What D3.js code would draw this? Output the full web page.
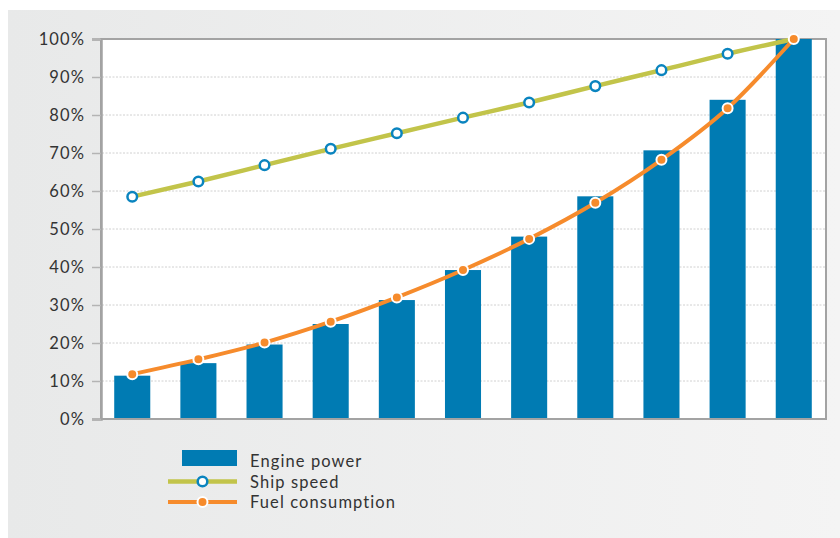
<!DOCTYPE html>
<html>
<head>
<meta charset="utf-8">
<script src="https://cdn.jsdelivr.net/npm/d3@7/dist/d3.min.js"></script>
<style>
  html, body { margin: 0; padding: 0; background: #ffffff; }
  svg { display: block; font-family: Lato, "Open Sans", sans-serif; }
</style>
</head>
<body>
<svg id="chart" width="840" height="538"></svg>
<script>
// Load steps (x positions) and the three series, in percent of maximum
const steps = d3.range(1, 12);
const enginePower = [11.4, 14.7, 19.6, 25.0, 31.3, 39.2, 48.0, 58.6, 70.7, 84.0, 100];
const shipSpeed   = [58.5, 62.5, 66.8, 71.1, 75.2, 79.3, 83.3, 87.6, 91.8, 96.1, 100];
const fuelUse     = [11.8, 15.7, 20.1, 25.6, 32.0, 39.2, 47.4, 56.9, 68.2, 81.8, 100];
const yTicks = [0, 10, 20, 30, 40, 50, 60, 70, 80, 90, 100];
const legendLabels = ["Engine power", "Ship speed", "Fuel consumption"];

const colors = {
  bar: "#007bb3",
  speed: "#c2c44a",
  speedMarker: "#0a84bf",
  fuel: "#f68b2c"
};

const textStyle = sel => sel
  .attr("font-family", "Lato, sans-serif")
  .attr("font-size", 16.5)
  .attr("letter-spacing", 1.1)
  .attr("fill", "#333333");

const svg = d3.select("#chart");

// Panel background with a soft horizontal gradient
const defs = svg.append("defs");
const grad = defs.append("linearGradient").attr("id", "panelGrad")
  .attr("x1", "0%").attr("x2", "100%").attr("y1", "0%").attr("y2", "0%");
grad.append("stop").attr("offset", "0%").attr("stop-color", "#e8e9e9");
grad.append("stop").attr("offset", "100%").attr("stop-color", "#f4f4f4");
svg.append("rect").attr("x", 8).attr("y", 10).attr("width", 832).attr("height", 528)
  .attr("fill", "url(#panelGrad)");

const plot = { left: 101, top: 39, right: 826, bottom: 419 };

const x = d3.scaleBand().domain(steps).range([99, 827]).paddingInner(0.455).paddingOuter(0.23);
const y = d3.scaleLinear().domain([0, 100]).range([plot.bottom, plot.top]);

// Plot area
svg.append("rect")
  .attr("x", plot.left).attr("y", plot.top)
  .attr("width", plot.right - plot.left).attr("height", plot.bottom - plot.top)
  .attr("fill", "#ffffff").attr("stroke", "#a3a3a3").attr("stroke-width", 2);

// Dotted gridlines
svg.append("g").selectAll("line")
  .data(yTicks.filter(t => t > 0 && t < 100))
  .join("line")
  .attr("x1", plot.left + 1).attr("x2", plot.right - 1)
  .attr("y1", d => y(d)).attr("y2", d => y(d))
  .attr("stroke", "#d0d0d0").attr("stroke-width", 1)
  .attr("stroke-dasharray", "2,1.5");

// Bars
svg.append("g").selectAll("rect")
  .data(steps)
  .join("rect")
  .attr("x", d => x(d))
  .attr("width", x.bandwidth())
  .attr("y", (d, i) => y(enginePower[i]))
  .attr("height", (d, i) => y(0) - y(enginePower[i]))
  .attr("fill", colors.bar);

// Y axis
const yAxis = d3.axisLeft(y).tickValues(yTicks).tickFormat(d => d + "%")
  .tickSize(9).tickPadding(7);
const ga = svg.append("g").attr("transform", `translate(${plot.left},0)`).call(yAxis);
ga.select(".domain").attr("stroke", "#a3a3a3").attr("stroke-width", 2.5);
ga.selectAll(".tick line").attr("stroke", "#b4b4b4").attr("stroke-width", 1.5);
ga.selectAll(".tick text").call(textStyle);

// Bottom axis line
svg.append("line").attr("x1", plot.left).attr("x2", plot.right)
  .attr("y1", plot.bottom).attr("y2", plot.bottom)
  .attr("stroke", "#a3a3a3").attr("stroke-width", 2);

const cx = d => x(d) + x.bandwidth() / 2;

// Ship speed line
const speedLine = d3.line().x(d => cx(d)).y((d, i) => y(shipSpeed[i])).curve(d3.curveMonotoneX);
svg.append("path").datum(steps).attr("d", speedLine)
  .attr("fill", "none").attr("stroke", colors.speed).attr("stroke-width", 4.5);

// Fuel consumption line
const fuelLine = d3.line().x(d => cx(d)).y((d, i) => y(fuelUse[i])).curve(d3.curveMonotoneX);
svg.append("path").datum(steps).attr("d", fuelLine)
  .attr("fill", "none").attr("stroke", colors.fuel).attr("stroke-width", 4);

// Markers
svg.append("g").selectAll("circle")
  .data(steps.slice(0, -1))
  .join("circle")
  .attr("cx", d => cx(d)).attr("cy", (d, i) => y(shipSpeed[i]))
  .attr("r", 4.8)
  .attr("fill", "#ffffff").attr("stroke", colors.speedMarker).attr("stroke-width", 2.5);

svg.append("g").selectAll("circle")
  .data(steps)
  .join("circle")
  .attr("cx", d => cx(d)).attr("cy", (d, i) => y(fuelUse[i]))
  .attr("r", 5)
  .attr("fill", colors.fuel).attr("stroke", "#ffffff").attr("stroke-width", 2);

// Legend
const lg = svg.append("g");
lg.append("rect").attr("x", 182).attr("y", 450).attr("width", 55).attr("height", 16).attr("fill", colors.bar);

lg.append("line").attr("x1", 168).attr("x2", 237).attr("y1", 481.5).attr("y2", 481.5)
  .attr("stroke", colors.speed).attr("stroke-width", 4.5);
lg.append("circle").attr("cx", 202.5).attr("cy", 481.5).attr("r", 4.8)
  .attr("fill", "#ffffff").attr("stroke", colors.speedMarker).attr("stroke-width", 2.5);

lg.append("line").attr("x1", 168).attr("x2", 237).attr("y1", 502).attr("y2", 502)
  .attr("stroke", colors.fuel).attr("stroke-width", 4);
lg.append("circle").attr("cx", 202.5).attr("cy", 502).attr("r", 5)
  .attr("fill", colors.fuel).attr("stroke", "#ffffff").attr("stroke-width", 2);

lg.selectAll("text").data(legendLabels).join("text")
  .attr("x", 250).attr("y", (d, i) => 467 + i * 20.5)
  .call(textStyle)
  .text(d => d);
</script>
</body>
</html>
